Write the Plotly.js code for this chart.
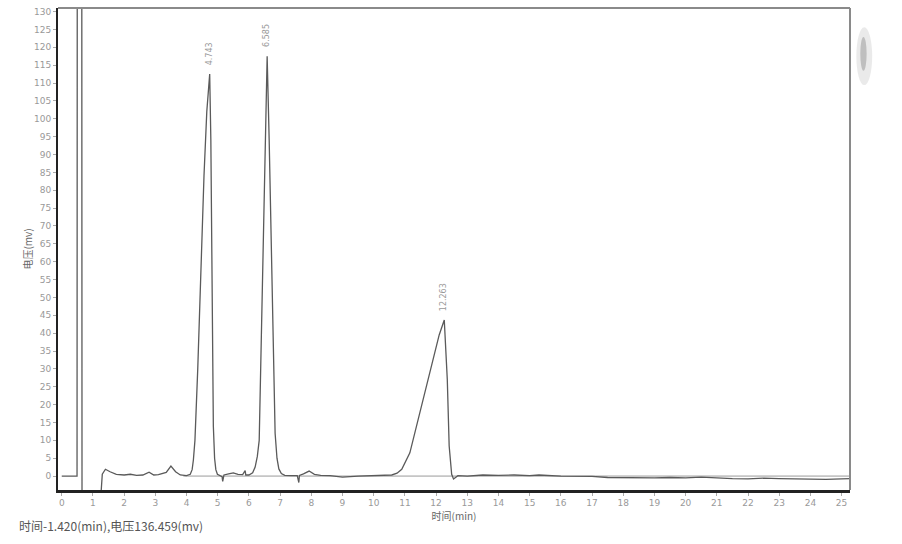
<!DOCTYPE html>
<html>
<head>
<meta charset="utf-8">
<script src="https://cdn.plot.ly/plotly-3.0.1.min.js"></script>
<style>
html,body{margin:0;padding:0;background:#fff;}
#chart{width:902px;height:544px;}
</style>
</head>
<body>
<div id="chart"></div>
<script>
// Retention time (min)
const timeMin = [0, 0.49, 0.5, 0.64, 0.65, 1.22, 1.3, 1.4, 1.55, 1.75, 2.0, 2.2, 2.4, 2.6, 2.8, 2.95, 3.1, 3.35, 3.5, 3.65, 3.8, 4.0, 4.12, 4.18, 4.22, 4.27, 4.36, 4.45, 4.56, 4.65, 4.743, 4.78, 4.81, 4.86, 4.9, 4.94, 4.99, 5.05, 5.14, 5.16, 5.2, 5.35, 5.5, 5.65, 5.8, 5.88, 5.9, 6.0, 6.12, 6.2, 6.27, 6.33, 6.44, 6.52, 6.585, 6.65, 6.73, 6.84, 6.9, 6.96, 7.04, 7.15, 7.35, 7.55, 7.6, 7.62, 7.75, 7.93, 8.1, 8.3, 8.6, 9.0, 9.5, 10.0, 10.4, 10.58, 10.75, 10.9, 11.16, 11.48, 11.86, 12.1, 12.263, 12.36, 12.42, 12.5, 12.56, 12.7, 13.0, 13.5, 14.0, 14.5, 15.0, 15.3, 16.0, 17.0, 17.5, 18.0, 18.5, 19.0, 19.5, 20.0, 20.5, 21.0, 21.5, 22.0, 22.5, 23.0, 23.5, 24.0, 24.5, 25.0, 25.27];
// Detector voltage (mV); 200 / -10 = off-scale excursions
const voltage = [0, 0, 200, 200, -10, -10, 0.5, 1.9, 1.2, 0.5, 0.3, 0.5, 0.2, 0.3, 1.1, 0.3, 0.4, 1.0, 2.8, 1.2, 0.3, 0.1, 0.5, 1.8, 4.5, 10, 30, 56, 84, 102, 112.5, 94, 56, 14, 5, 1.8, 0.5, 0.2, -0.2, -1.5, 0.3, 0.6, 0.9, 0.5, 0.4, 1.5, 0.3, 0.3, 0.9, 2.5, 5.5, 10, 56.7, 94, 117.5, 94, 56.7, 12, 5, 2, 0.7, 0.2, 0.1, 0.1, -1.8, 0.2, 0.6, 1.4, 0.5, 0.2, 0.1, -0.3, 0, 0.1, 0.3, 0.3, 0.8, 1.9, 6.5, 17.7, 31.6, 39.5, 43.7, 27, 8.4, 0.5, -0.8, 0.1, 0, 0.3, 0.2, 0.3, 0.1, 0.3, 0, -0.1, -0.4, -0.5, -0.4, -0.5, -0.4, -0.5, -0.3, -0.6, -0.7, -0.8, -0.6, -0.7, -0.8, -1.0, -0.9, -0.8, -0.7];
// Integration baseline
const baseX = [3.9, 25.27];
const baseY = [0, 0];
// Peak labels
const peakTimes = [4.743, 6.585, 12.263];
const peakHeights = [112.5, 117.5, 43.7];
const peakLabels = ['4.743', '6.585', '12.263'];
// Axis ticks
const xTicks = [0,1,2,3,4,5,6,7,8,9,10,11,12,13,14,15,16,17,18,19,20,21,22,23,24,25];
const yTicks = [0,5,10,15,20,25,30,35,40,45,50,55,60,65,70,75,80,85,90,95,100,105,110,115,120,125,130];

const traces = [
  {x: baseX, y: baseY, type: 'scatter', mode: 'lines',
   line: {color: '#9a9a9a', width: 1}, hoverinfo: 'skip', showlegend: false},
  {x: timeMin, y: voltage, type: 'scatter', mode: 'lines',
   line: {color: '#5a5a5a', width: 1.3}, showlegend: false}
];

const annotations = peakTimes.map((t, i) => ({
  x: t, y: peakHeights[i], xref: 'x', yref: 'y',
  text: peakLabels[i], showarrow: false, textangle: -90,
  xanchor: 'center', yanchor: 'bottom', yshift: 7,
  font: {family: 'DejaVu Sans', size: 8, color: '#999'}
}));
annotations.push({
  xref: 'paper', yref: 'paper', x: -0.052, y: -0.052,
  xanchor: 'left', yanchor: 'top', showarrow: false,
  text: '时间-1.420(min),电压136.459(mv)',
  font: {family: 'Noto Sans CJK SC', size: 12, color: '#555'}
});

const layout = {
  width: 902, height: 544,
  margin: {l: 58, r: 52, t: 8, b: 54},
  paper_bgcolor: '#fff', plot_bgcolor: '#fff',
  font: {family: 'DejaVu Sans', color: '#888'},
  xaxis: {
    range: [-0.12, 25.27], tickvals: xTicks, ticktext: xTicks.map(String),
    ticks: 'outside', ticklen: 3, tickcolor: '#aaa', tickwidth: 1,
    tickfont: {family: 'DejaVu Sans', size: 9, color: '#999'},
    showline: true, linecolor: '#222', linewidth: 2.5,
    showgrid: false, zeroline: false,
    title: {text: '时间(min)', standoff: 5,
            font: {family: 'Noto Sans CJK SC', size: 10, color: '#666'}}
  },
  yaxis: {
    range: [-3.9, 131], tickvals: yTicks, ticktext: yTicks.map(String),
    ticks: 'outside', ticklen: 3, tickcolor: '#aaa', tickwidth: 1,
    tickfont: {family: 'DejaVu Sans', size: 9, color: '#999'},
    showline: true, linecolor: '#222', linewidth: 2,
    showgrid: false, zeroline: false,
    title: {text: '电压(mv)', standoff: 0,
            font: {family: 'Noto Sans CJK SC', size: 10, color: '#666'}}
  },
  annotations: annotations,
  shapes: [
    {type: 'line', xref: 'paper', yref: 'paper', x0: 0, x1: 1, y0: 1, y1: 1,
     line: {color: '#8a8a8a', width: 2}},
    {type: 'line', xref: 'paper', yref: 'paper', x0: 1, x1: 1, y0: 0, y1: 1,
     line: {color: '#8a8a8a', width: 2}},
    {type: 'circle', xref: 'paper', yref: 'paper', x0: 1.008, x1: 1.028, y0: 0.84, y1: 0.96,
     fillcolor: 'rgba(170,170,170,0.25)', line: {width: 0}},
    {type: 'circle', xref: 'paper', yref: 'paper', x0: 1.013, x1: 1.021, y0: 0.87, y1: 0.94,
     fillcolor: 'rgba(140,140,140,0.45)', line: {width: 0}}
  ]
};

Plotly.newPlot('chart', traces, layout, {displayModeBar: false, staticPlot: true});
</script>
</body>
</html>
